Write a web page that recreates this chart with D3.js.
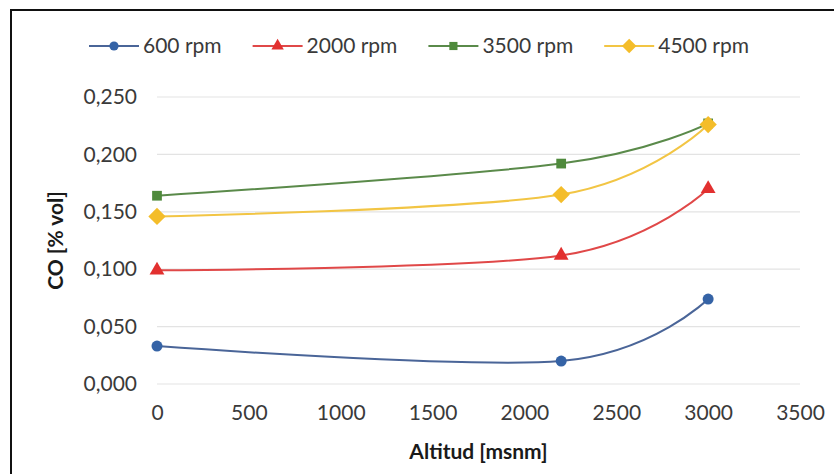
<!DOCTYPE html>
<html>
<head>
<meta charset="utf-8">
<script src="https://cdn.jsdelivr.net/npm/d3@7"></script>
<style>
  html, body { margin: 0; padding: 0; background: #fff; }
  svg { display: block; font-family: Lato, "Open Sans", sans-serif; }
</style>
</head>
<body>
<svg id="chart" width="834" height="474"></svg>
<script>
// ---- Data ----
const altitudes = [0, 2200, 3000];
const seriesNames = ["600 rpm", "2000 rpm", "3500 rpm", "4500 rpm"];
const co600  = [0.033, 0.020, 0.074];
const co2000 = [0.099, 0.112, 0.170];
const co3500 = [0.164, 0.192, 0.227];
const co4500 = [0.146, 0.165, 0.226];
const xTicks = [0, 500, 1000, 1500, 2000, 2500, 3000, 3500];
const yTicks = [0, 0.05, 0.10, 0.15, 0.20, 0.25];
const xTitle = "Altitud [msnm]";
const yTitle = "CO [% vol]";

const seriesValues = [co600, co2000, co3500, co4500];
const colors = ["#3563a6", "#e2302f", "#4f8a3c", "#f4bd2a"];
const lineColors = ["#4a6598", "#e04848", "#5a8a4a", "#f2c544"];
const markerTypes = [d3.symbolCircle, d3.symbolTriangle, d3.symbolSquare, d3.symbolSquare];
const markerSizes = [95, 95, 95, 150];
const markerRot = [0, 0, 0, 45];

const svg = d3.select("#chart");

// frame
svg.append("rect")
  .attr("x", 11).attr("y", 10)
  .attr("width", 840).attr("height", 480)
  .attr("fill", "none").attr("stroke", "#111").attr("stroke-width", 2);

const x = d3.scaleLinear().domain([0, 3500]).range([157, 800]);
const y = d3.scaleLinear().domain([0, 0.25]).range([384, 97]);

const fmtY = v => d3.format(".3f")(v).replace(".", ",");

// gridlines
svg.append("g")
  .selectAll("line").data(yTicks).join("line")
  .attr("x1", x(0)).attr("x2", x(3500))
  .attr("y1", d => y(d)).attr("y2", d => y(d))
  .attr("stroke", "#e3e3e3").attr("stroke-width", 1.2);

// y axis labels
const yAxis = d3.axisLeft(y).tickValues(yTicks).tickFormat(fmtY).tickSize(0).tickPadding(20);
const gy = svg.append("g").attr("transform", `translate(${x(0)},0)`).call(yAxis);
gy.select(".domain").remove();
gy.selectAll("text").attr("font-size", 21).attr("fill", "#3a3a3a")
  .attr("font-family", "Lato, sans-serif");

// x axis labels
const xAxis = d3.axisBottom(x).tickValues(xTicks).tickFormat(d3.format("d")).tickSize(0).tickPadding(21);
const gx = svg.append("g").attr("transform", `translate(0,${y(0)})`).call(xAxis);
gx.select(".domain").remove();
gx.selectAll("text").attr("font-size", 21).attr("fill", "#3a3a3a")
  .attr("font-family", "Lato, sans-serif");

// titles
svg.append("text")
  .attr("x", (x(0) + x(3500)) / 2).attr("y", 459)
  .attr("text-anchor", "middle").attr("font-size", 21).attr("font-weight", "bold")
  .attr("fill", "#1a1a1a").text(xTitle);
svg.append("text")
  .attr("transform", `translate(63,${(y(0) + y(0.25)) / 2}) rotate(-90)`)
  .attr("text-anchor", "middle").attr("font-size", 21).attr("font-weight", "bold")
  .attr("fill", "#1a1a1a").text(yTitle);

// lines
const line = d3.line()
  .x((d, i) => x(altitudes[i]))
  .y(d => y(d))
  .curve(d3.curveCardinal.tension(0));

seriesValues.forEach((vals, s) => {
  svg.append("path")
    .datum(vals)
    .attr("d", line)
    .attr("fill", "none")
    .attr("stroke", lineColors[s])
    .attr("stroke-width", 2);
});

// markers
seriesValues.forEach((vals, s) => {
  svg.append("g").selectAll("path").data(vals).join("path")
    .attr("transform", (d, i) => `translate(${x(altitudes[i])},${y(d)}) rotate(${markerRot[s]})`)
    .attr("d", d3.symbol().type(markerTypes[s]).size(markerSizes[s]))
    .attr("fill", colors[s]);
});

// legend
const legend = svg.append("g");
let lx = 89;
const ly = 46;
seriesNames.forEach((name, s) => {
  const g = legend.append("g").attr("transform", `translate(${lx},${ly})`);
  g.append("line").attr("x1", 0).attr("x2", 50).attr("y1", 0).attr("y2", 0)
    .attr("stroke", lineColors[s]).attr("stroke-width", 2);
  g.append("path").attr("transform", `translate(25,0) rotate(${markerRot[s]})`)
    .attr("d", d3.symbol().type(markerTypes[s]).size(markerSizes[s] * 0.7))
    .attr("fill", colors[s]);
  const t = g.append("text").attr("x", 54).attr("y", 7)
    .attr("font-size", 21).attr("fill", "#3a3a3a").text(name);
  lx += 54 + t.node().getComputedTextLength() + 31;
});
</script>
</body>
</html>
